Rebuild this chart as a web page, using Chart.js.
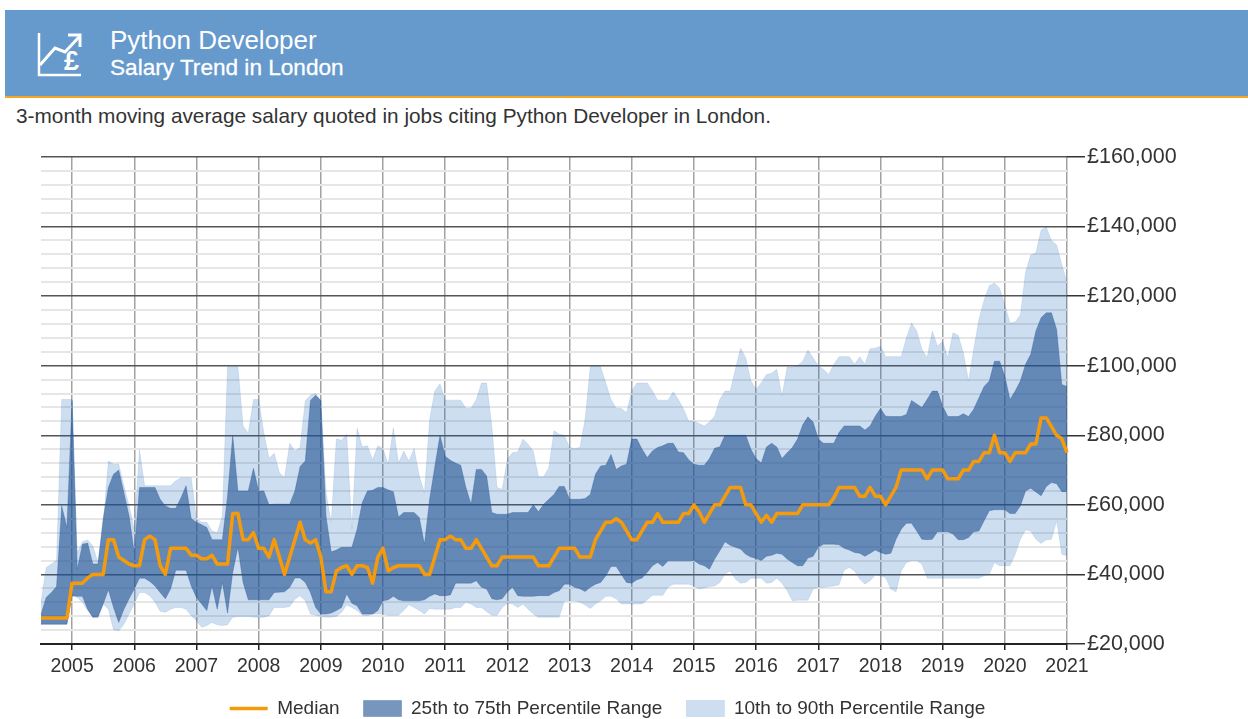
<!DOCTYPE html>
<html>
<head>
<meta charset="utf-8">
<title>Python Developer Salary Trend in London</title>
<script src="https://cdn.jsdelivr.net/npm/chart.js@4"></script>
<style>
  html, body { margin: 0; padding: 0; background: #fff; overflow: hidden; }
  body { width: 1248px; height: 719px; position: relative; font-family: "Liberation Sans", Arial, sans-serif; }
  #banner { position: absolute; left: 5px; top: 10px; width: 1243px; height: 86px; background: #6699cc; border-bottom: 2px solid #f5a623; }
  #banner svg { position: absolute; left: 30px; top: 20px; }
  #title1 { position: absolute; left: 105px; top: 15px; font-size: 26px; line-height: 30px; color: #fff; }
  #title2 { position: absolute; left: 105px; top: 45px; font-size: 22.6px; line-height: 26px; color: #fff; -webkit-text-stroke: 0.3px #fff; }
  #note { position: absolute; left: 16px; top: 104px; font-size: 20.8px; line-height: 24px; color: #333; white-space: nowrap; }
  canvas { position: absolute; left: 0; top: 0; }
</style>
</head>
<body>
<div id="banner">
  <svg width="54" height="50" viewBox="0 0 54 50">
    <path d="M4 3 V45 H46" fill="none" stroke="#fff" stroke-width="2.5"/>
    <path d="M5 35 L20 18 L30 22 L44 7" fill="none" stroke="#fff" stroke-width="3"/>
    <path d="M33 5 H45 V17" fill="none" stroke="#fff" stroke-width="3"/>
    <text x="29" y="40" font-family="Liberation Sans" font-size="27" font-weight="bold" fill="#fff">£</text>
  </svg>
  <div id="title1">Python Developer</div>
  <div id="title2">Salary Trend in London</div>
</div>
<div id="note">3-month moving average salary quoted in jobs citing Python Developer in London.</div>
<canvas id="salary_chart" width="1215" height="728"></canvas>

<script>
'use strict';

// salaries in thousands of pounds, one value per month from 2004-07 to 2021-01
const median = [
  27.5,27.5,27.5,27.5,27.5,27.5,37.5,37.5,37.5,39,
  40,40,40,50,50,45,44,43,42.5,42.5,
  50,51,50,42.5,40,47.5,47.5,47.5,47.5,45.5,
  45.5,44.5,44.5,45.5,43,43,43,57.5,57.5,50,
  50,52,47.5,47.5,45,50,45,40,45,50,
  55,50,49,50,45,35,35,41,42,42.5,
  40,42.5,42.5,42,37.5,45,47.5,41,42,42.5,
  42.5,42.5,42.5,42.5,40,40,45,50,50,51,
  50,50,47.5,47.5,50,47.5,45,42.5,42.5,45,
  45,45,45,45,45,45,42.5,42.5,42.5,45,
  47.5,47.5,47.5,47.5,45,45,45,50,52.5,55,
  55,56,55,52.5,50,50,52.5,55,55,57.5,
  55,55,55,55,57.5,57.5,60,58,55,57.5,
  60,60,62.5,65,65,65,60,60,57.5,55,
  57,55,57.5,57.5,57.5,57.5,57.5,60,60,60,
  60,60,60,62,65,65,65,65,62.5,62.5,
  65,62.5,62.5,60,62.5,65,70,70,70,70,
  70,67.5,70,70,70,67.5,67.5,67.5,70,70,
  72.5,72.5,75,75,80,75,75,72.5,75,75,
  75,77.5,77.5,85,85,82.5,80,79,75
];
const p75 = [
  28.5,33.4,34.8,36.5,59.7,53.5,90,41.5,48.7,49,
  43,43,56,65,68.8,70,63.5,56.8,46.3,65,
  65,65,65,61.6,59.7,59,59,62,65.5,56,
  55,54.3,53.5,50,50,50,62.5,80,64,64,
  64,70.5,64,64,60,60.2,60.2,60.2,60.2,64,
  71,72.6,90,91.5,90,56.8,46.5,47,47.8,47.8,
  47.8,53,60.7,64,64.2,65,65,64.3,63.8,56.5,
  57.8,57.8,57.8,56.4,48.7,61.6,71,80,74,72.8,
  72,71.4,65,60.2,70.2,70.2,68.3,57.8,57.3,57.3,
  57.3,57.8,57.8,57.8,57.8,60,58,60.2,61.6,63,
  65.3,65.3,61.6,61.6,61.6,61.8,63,68.8,71.2,71.4,
  74.5,70.2,71.2,71.7,78.9,78.9,76,73.6,75.5,76.5,
  77,77.7,77.7,75.2,75,73,71.7,71.4,71.4,73.3,
  76.3,76.7,80,80,80,80,80,76,73.3,72,
  76.6,77.7,76.6,73.3,75,76.5,78.9,83,85.3,83.8,
  78.9,77.7,77.7,77.7,80.8,82.7,82.7,82.7,82.7,81.5,
  82.7,85.5,87.7,85.5,85.4,85.4,85.4,86,90,89,
  88,90.3,92.7,92.7,88.4,85.4,85.4,85.4,86.2,85.4,
  87.5,90.8,94,95.6,101.3,101.3,97,90.3,92.7,95.6,
  100.4,103.3,110,113.8,115.2,115.2,110.4,94.6,94
];
const p25 = [
  25.7,25.7,25.7,25.7,25.7,25.7,33.9,33.7,33.7,30,
  27.7,27.7,31.5,35.6,30.5,26.2,30,33,35.8,38.9,
  38.9,38,36.7,34.8,33,35.8,41.2,41.2,41.2,36.7,
  33.4,31.5,29.6,36.7,30,37.7,28.9,40.6,47.8,37.7,
  32.7,32.7,32.7,32.7,32.7,34.8,34.9,35,36.3,39,
  39,37.7,34.8,30.5,28.6,28.6,28.9,29.6,30.5,34.4,
  31.7,31,28.6,28.6,28.6,29.6,32.4,32.7,33.7,32.7,
  32.4,32.4,32.4,32.4,32.7,33.7,34.4,33.9,33.9,34.1,
  37.5,37.5,37.5,37.5,38.2,36.3,35.8,33,32.7,33,
  35,36.3,33.9,33.7,33.7,33.7,33.9,33.9,33.9,34.8,
  35.3,37.2,37.2,36.3,35.9,35.1,36.3,37.2,37.7,39.6,
  42.3,42.3,40,37.7,37.5,38.5,39,40.6,42.5,43.4,
  42.3,43.9,43.9,43.9,43.9,43.9,44,43,42.5,41.5,
  44.4,46.8,49.4,48.4,47.8,47.3,45.8,45,44.6,44,
  45.2,45.5,46.1,45.8,44.4,43.4,42.5,42.5,44.7,45.2,
  47.8,48.7,48.7,48.7,48.5,47.5,47,46.3,46.1,45.2,
  46.1,47,46.3,45.8,46.1,50.1,53,54.7,54.7,52.5,
  50.1,50,50.1,52.3,52.3,52.3,51.6,50,50,50.6,
  52.3,52.5,55.4,58.3,58.6,58.6,58.6,57.5,57.5,59.7,
  64,64.8,63.7,62.6,65.3,66.4,66.1,63.8,63.8
];
const p90 = [
  32,42,43,44,90.3,90.3,90.3,46.3,49.4,49.9,
  48.2,43.4,54,72.6,71.7,71.7,65.5,59.7,53,75.8,
  65.5,65.5,65.5,65.5,65.5,65.5,66.9,67.8,67.8,67.8,
  56,55,55,52.5,52,56.8,99.7,99.7,99.7,82.7,
  80.6,90.3,90.3,80.8,73.4,74.8,69.3,67.8,77.7,75.5,
  76.5,89.9,91.5,92,89.9,63.5,55,78.9,78.6,80.3,
  53,82,76.7,77,73,77,76.2,71.7,82.2,72,
  75.5,72.6,76.2,68.3,63.5,84.6,92.7,94.8,90.1,90.1,
  90.1,90.1,87.8,87.8,90.3,95,95,82.7,65,64.5,
  73.1,75,75.2,78.9,77.4,75.5,68.1,68.1,70.7,81.3,
  80.3,80,76.5,76.2,76.5,84.6,99.7,99.9,99.7,95,
  90.3,87.8,87.7,86.5,92.7,95,95,95,92.7,90.1,
  90.1,90.1,92.5,90.3,87.5,84.1,84.1,83.4,82.7,83.8,
  85.5,90.3,92.7,92.7,99,105,102.3,95.6,93.2,95.1,
  97.5,97.8,99,91.3,99.6,99.6,100,101.3,104.5,102.3,
  99.9,99,97.5,100.4,102.6,102.6,102.6,100.4,102.6,100.4,
  104.9,105,105.6,102.6,102.6,102.6,102.6,108,112.3,110,
  104.7,102.3,110,105.6,107,102.3,109.5,108.7,103.7,95.6,
  104.7,113.3,118.9,123,123.8,122.3,117.5,112.3,112.6,114.6,
  126.9,131.8,132.4,139,139.9,136,134.7,129,124
];
const p10 = [
  25.7,25.7,25.7,25.7,25.7,25.7,33.9,33.4,32,29.6,
  27.7,28.1,31.5,30,24.1,23.8,25.7,28.6,31.5,34.8,
  34.8,33.9,32,29.4,29.1,30,30.5,30.5,30,28.1,
  26.7,24.8,25.3,26.2,25.5,25.3,25.5,27.7,27.9,27.9,
  27.9,27.7,27.7,27.7,28.1,30.5,30.5,30.5,30.8,32.9,
  33.9,32.4,28.6,28.3,27.9,27.7,27.7,27.9,29.1,31.2,
  30.5,29.6,28.3,28.1,28.6,28.6,28.6,28.3,28.3,28.3,
  29.6,31.3,30.5,29.6,28.6,30.2,30,30,30,30,
  30.5,30.5,32,31.5,30.5,30.5,29.3,28.3,28.3,30.5,
  31.7,31.5,30.5,31.5,30,28.6,27.7,27.7,27.7,27.7,
  27.7,32.4,32.4,32.4,32,31.2,30.2,31.5,32.4,33.7,
  33.7,33,31.5,31.5,31.5,31.5,31.5,32.7,34,34,
  34,36.3,37.2,37.2,37.2,37.2,36.7,35.8,36.1,36.5,
  36.7,37.7,40.1,41,38.7,37.5,37.7,38.9,38.9,38.9,
  37.5,37.7,38.9,37.5,35.3,32.4,32.6,32.6,32.6,35.8,
  36.3,36.3,36.5,36.7,37,41.3,42,41,38.7,37.2,
  38.2,39.8,39.6,39.1,35.8,35,41,43.4,44,44,
  43,38.9,38.9,38.9,38.9,38.9,38.9,38.9,38.9,38.9,
  38.9,38.9,39.6,40.1,43.4,42.5,42.5,42.5,45.8,50.1,
  52.8,52.5,50.1,48.9,50,50.1,55.4,45.8,45.4
];

const months = [];
for (let y = 2004, m = 7; months.length < median.length; m++) {
  if (m > 12) { m = 1; y++; }
  months.push(y + '-' + String(m).padStart(2, '0'));
}

const fontName = '"Liberation Sans", Arial, sans-serif';

new Chart(document.getElementById('salary_chart').getContext('2d'), {
  type: 'line',
  data: {
    labels: months,
    datasets: [
      { label: 'Median', data: median, borderColor: '#f59b0b', backgroundColor: '#f59b0b', borderWidth: 3.5, pointStyle: 'line', fill: false },
      { label: '25th to 75th Percentile Range', data: p75, borderColor: 'rgba(30,80,145,0.3)', backgroundColor: 'rgba(30,80,145,0.6)', borderWidth: 1, pointStyle: 'rect', fill: 2 },
      { label: 'p25', data: p25, borderColor: 'rgba(30,80,145,0.3)', borderWidth: 1, fill: false },
      { label: '10th to 90th Percentile Range', data: p90, borderColor: 'rgba(30,105,190,0.12)', backgroundColor: 'rgba(30,105,190,0.22)', borderWidth: 1, pointStyle: 'rect', fill: 4 },
      { label: 'p10', data: p10, borderColor: 'rgba(30,105,190,0.12)', borderWidth: 1, fill: false }
    ]
  },
  options: {
    responsive: false,
    animation: false,
    elements: { point: { radius: 0 }, line: { tension: 0, borderJoinStyle: 'round' } },
    layout: { padding: { top: 157 } },
    plugins: {
      tooltip: { enabled: false },
      legend: {
        position: 'bottom',
        labels: {
          usePointStyle: true,
          pointStyleWidth: 38,
          boxHeight: 16,
          padding: 24,
          color: '#333',
          font: { family: fontName, size: 19 },
          filter: (item) => item.text !== 'p25' && item.text !== 'p10'
        }
      }
    },
    scales: {
      x: {
        afterFit: (scale) => { scale.height = 31; },
        border: { color: '#222', width: 2 },
        grid: {
          color: (c) => c.tick && c.tick.label !== '' ? 'rgba(100,100,100,0.6)' : 'transparent',
          tickColor: (c) => c.tick && c.tick.label !== '' ? '#222' : 'transparent',
          lineWidth: 1.5,
          tickLength: 6
        },
        ticks: {
          autoSkip: false,
          minRotation: 0,
          maxRotation: 0,
          color: '#333',
          font: { family: fontName, size: 19.5 },
          padding: 5,
          callback: function (val) {
            const lab = this.getLabelForValue(val);
            return lab.endsWith('-01') ? lab.slice(0, 4) : '';
          }
        }
      },
      y: {
        position: 'right',
        min: 20,
        max: 160,
        afterFit: (scale) => { scale.width = 148; },
        border: { display: false },
        grid: {
          color: (c) => c.tick.value % 20 === 0 ? '#555' : '#e6e6e6',
          tickColor: (c) => c.tick.value % 20 === 0 ? '#333' : 'transparent',
          lineWidth: (c) => c.tick.value % 20 === 0 ? 1.5 : 2,
          tickLength: 18
        },
        ticks: {
          stepSize: 4,
          autoSkip: false,
          color: '#333',
          font: { family: fontName, size: 21.5 },
          padding: 2,
          callback: (v) => v % 20 === 0 ? '£' + v + ',000' : ''
        }
      },
      // empty axis, only keeps the plot 41px in from the left edge
      leftGap: {
        position: 'left',
        afterFit: (scale) => { scale.width = 41; },
        border: { display: false },
        grid: { display: false },
        ticks: { display: false }
      }
    }
  }
});
</script>
</body>
</html>
